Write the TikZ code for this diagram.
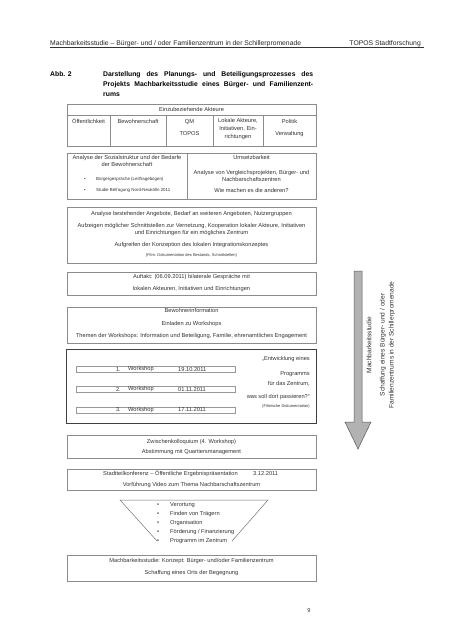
\documentclass[tikz,border=0pt]{standalone}
\usepackage{fontspec}
\setmainfont{Liberation Sans}
\usepackage{tikz}

\newcommand{\fsz}[2]{\fontsize{#1}{#2}\selectfont}

\begin{document}
\begin{tikzpicture}[x=1pt,y=-1pt,
    box/.style={draw=black!45,line width=.5pt,anchor=north west,inner sep=0},
    txt/.style={font=\fsz{5.7}{7},text=black!80,inner sep=0},
    tiny/.style={font=\fsz{4.4}{5},text=black!80,inner sep=0},
    bar/.style={draw=black!40,line width=.4pt,inner sep=0,minimum width=159pt,minimum height=6.2pt}]
  \useasboundingbox[fill=white] (0,0) rectangle (452,640);

  % Kopfzeile
  \node[anchor=base west,font=\fsz{6.8}{8},text=black!85,inner sep=0] (kopf) at (50,45)
       {Machbarkeitsstudie – Bürger- und / oder Familienzentrum in der Schillerpromenade};
  \node[anchor=base east,font=\fsz{6.8}{8},text=black!85,inner sep=0] (topos) at (421,45) {TOPOS Stadtforschung};
  \draw[black!80,line width=.5pt] (50,47.5) -- (424,47.5);

  % Titel
  \node[anchor=base west,font=\fsz{6.8}{10}\bfseries,inner sep=0] (abb) at (50,76) {Abb. 2};
  \node[anchor=base west,font=\fsz{6.8}{10}\bfseries,inner sep=0] (titel1) at (103,76)
       {\makebox[210pt][s]{Darstellung des Planungs- und Beteiligungsprozesses des}};
  \node[anchor=base west,font=\fsz{6.8}{10}\bfseries,inner sep=0] (titel2) at (103,86)
       {\makebox[210pt][s]{Projekts Machbarkeitsstudie eines Bürger- und Familienzent-}};
  \node[anchor=base west,font=\fsz{6.8}{10}\bfseries,inner sep=0] (titel3) at (103,96) {rums};

  % Akteure
  \node[box,minimum width=249pt,minimum height=42pt] (akteure) at (67,104) {};
  \draw[black!45,line width=.5pt] (67,115) -- (316,115);
  \foreach \xx in {110,166,213,263}
    \draw[black!45,line width=.5pt] (\xx,115) -- (\xx,146);
  \node[txt] (akt) at (191.5,109.5) {Einzubeziehende Akteure};
  \node[txt] (oeff) at (88.5,121.5) {Öffentlichkeit};
  \node[txt] (bew) at (138,121.5) {Bewohnerschaft};
  \node[txt,align=center,font=\fsz{5.7}{11.5}] (qm) at (189.5,127.3) {QM\\TOPOS};
  \node[txt,align=center,font=\fsz{5.7}{8}] (lokal) at (238,129.5) {Lokale Akteure,\\Initiativen, Ein-\\richtungen};
  \node[txt,align=center,font=\fsz{5.7}{12.5}] (politik) at (289.5,127.8) {Politik\\Verwaltung};

  % Analyse / Umsetzbarkeit
  \node[box,minimum width=249pt,minimum height=46pt] (analyse) at (67,153) {};
  \draw[black!45,line width=.5pt] (187,153) -- (187,199);
  \node[txt,align=center,font=\fsz{5.7}{6.7}] (sozial) at (127,160.7) {Analyse der Sozialstruktur und der Bedarfe\\der Bewohnerschaft};
  \node[tiny] (b1) at (85,179.3) {\textbullet};
  \node[tiny,anchor=west] (b1t) at (96,179.3) {Bürgergespräche (Leitfragebogen)};
  \node[tiny] (b2) at (85,190) {\textbullet};
  \node[tiny,anchor=west] (b2t) at (96,190) {Studie Befragung Nord-Neukölln 2011};
  \node[txt] (umsetz) at (251.5,157.3) {Umsetzbarkeit};
  \node[txt,align=center,font=\fsz{5.7}{6.7}] (vergl) at (251.5,176) {Analyse von Vergleichsprojekten, Bürger- und\\Nachbarschaftszentren};
  \node[txt] (andere) at (251.5,190) {Wie machen es die anderen?};

  % Bestand
  \node[box,minimum width=249pt,minimum height=56pt] (bestand) at (67,207) {};
  \node[txt] (best1) at (191.5,214) {Analyse bestehender Angebote, Bedarf an weiteren Angeboten, Nutzergruppen};
  \node[txt,align=center,font=\fsz{5.7}{6.7}] (best2) at (191.5,229.4) {Aufzeigen möglicher Schnittstellen zur Vernetzung, Kooperation lokaler Akteure, Initiativen\\und Einrichtungen für ein mögliches Zentrum};
  \node[txt] (best3) at (191.5,245) {Aufgreifen der Konzeption des lokalen Integrationskonzeptes};
  \node[tiny,font=\fsz{4}{5}] (best4) at (191.5,255.7) {(Film: Dokumentation des Bestands, Schnittstellen)};

  % Auftakt
  \node[box,minimum width=249pt,minimum height=23pt] (auftakt) at (67,272) {};
  \node[txt] (auf1) at (191.5,277.3) {Auftakt: (06.09.2011) bilaterale Gespräche mit};
  \node[txt] (auf2) at (191.5,289.3) {lokalen Akteuren, Initiativen und Einrichtungen};

  % Bewohnerinformation
  \node[box,minimum width=249pt,minimum height=36pt] (info) at (67,307) {};
  \node[txt] (info1) at (191.5,310.5) {Bewohnerinformation};
  \node[txt] (info2) at (191.5,324.5) {Einladen zu Workshops};
  \node[txt] (info3) at (191.5,336) {Themen der Workshops: Information und Beteiligung, Familie, ehrenamtliches Engagement};

  % Workshops
  \node[box,draw=black!75,line width=1pt,minimum width=250pt,minimum height=73.5pt] (workshops) at (66,349.3) {};
  \foreach \nr/\yy/\datum in {1/369.5/19.10.2011,2/389.5/01.11.2011,3/409.8/17.11.2011}{
    \node[bar] (ws\nr) at (155.5,\yy) {};
    \node[txt,anchor=east] at (121,\yy) {\nr.};
    \node[txt,anchor=west] at (128,\yy) {Workshop};
    \node[txt,anchor=west] at (178,\yy) {\datum};
  }
  \node[txt,anchor=east] (prog1) at (310,359.3) {„Entwicklung eines};
  \node[txt,anchor=east] (prog2) at (310,374) {Programms};
  \node[txt,anchor=east] (prog3) at (310,383.3) {für das Zentrum,};
  \node[txt,anchor=east] (prog4) at (310,396.7) {was soll dort passieren?“};
  \node[tiny,font=\fsz{4}{5},anchor=east] (prog5) at (310,406.7) {(Filmische Dokumentation)};

  % Zwischenkolloquium
  \node[box,minimum width=249pt,minimum height=23.3pt] (kolloq) at (67,435) {};
  \node[txt] (kol1) at (191.5,441.7) {Zwischenkolloquium (4. Workshop)};
  \node[txt] (kol2) at (191.5,452.3) {Abstimmung mit Quartiersmanagement};

  % Stadtteilkonferenz
  \node[box,minimum width=249pt,minimum height=21pt] (konferenz) at (67,469) {};
  \node[txt,anchor=west] (konf1) at (103,474) {Stadtteilkonferenz – Öffentliche Ergebnispräsentation};
  \node[txt,anchor=west] (konfd) at (253,474) {3.12.2011};
  \node[txt] (konf2) at (191.5,485) {Vorführung Video zum Thema Nachbarschaftszentrum};

  % Trichter
  \draw[black!55,line width=.5pt] (157,541) -- (120,500) -- (268,500) -- (232,541);
  \foreach \yy/\punkt in {505/Verortung,514/Finden von Trägern,523.3/Organisation,531.7/{Förderung / Finanzierung},540.7/Programm im Zentrum}{
    \node[txt] at (158,\yy) {\textbullet};
    \node[txt,anchor=west] at (170,\yy) {\punkt};
  }

  % Ergebnis
  \node[box,minimum width=249pt,minimum height=26pt] (ergebnis) at (67,555) {};
  \node[txt] (erg1) at (191.5,561) {Machbarkeitsstudie: Konzept: Bürger- und/oder Familienzentrum};
  \node[txt] (erg2) at (191.5,573.3) {Schaffung eines Orts der Begegnung};

  % Pfeil
  \draw[black!65,fill=black!30,line width=.5pt] (354,271) -- (362,271) -- (362,422) -- (371,422)
       -- (358,449) -- (345,422) -- (354,422) -- cycle;
  \node[txt,rotate=90,font=\fsz{6.6}{9}] (mbs) at (369,345) {Machbarkeitsstudie};
  \node[txt,rotate=90,align=center,font=\fsz{6.6}{9}] (schaffung) at (387.5,345)
       {Schaffung eines Bürger- und / oder\\Familienzentrums in der Schillerpromenade};

  \node[txt] (seite) at (309,611) {9};
\end{tikzpicture}
\end{document}
